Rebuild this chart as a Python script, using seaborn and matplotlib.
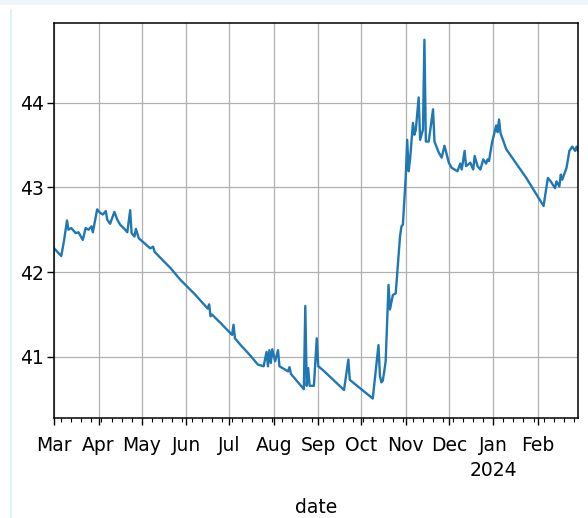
import pandas as pd
import matplotlib
matplotlib.use("Agg")
import matplotlib.pyplot as plt
import matplotlib.dates as mdates
from matplotlib.ticker import FuncFormatter
from matplotlib.patches import Rectangle
import seaborn as sns

# values
dates = [
    "2023-03-01", "2023-03-06", "2023-03-08", "2023-03-10", "2023-03-11", "2023-03-13",
    "2023-03-16", "2023-03-18", "2023-03-21", "2023-03-23", "2023-03-25", "2023-03-27",
    "2023-03-28", "2023-03-31", "2023-04-02", "2023-04-04", "2023-04-06", "2023-04-07",
    "2023-04-09", "2023-04-12", "2023-04-14", "2023-04-16", "2023-04-19", "2023-04-21",
    "2023-04-23", "2023-04-24", "2023-04-26", "2023-04-27", "2023-04-29", "2023-05-03",
    "2023-05-07", "2023-05-09", "2023-05-10", "2023-05-14", "2023-05-21", "2023-05-28",
    "2023-06-07", "2023-06-16", "2023-06-17", "2023-06-18", "2023-06-19", "2023-06-25",
    "2023-07-03", "2023-07-04", "2023-07-05", "2023-07-09", "2023-07-15", "2023-07-21",
    "2023-07-25", "2023-07-27", "2023-07-28", "2023-07-29", "2023-07-30", "2023-07-31",
    "2023-08-02", "2023-08-04", "2023-08-05", "2023-08-08", "2023-08-11", "2023-08-12",
    "2023-08-13", "2023-08-22", "2023-08-23", "2023-08-24", "2023-08-25", "2023-08-26",
    "2023-08-29", "2023-08-31", "2023-09-01", "2023-09-04", "2023-09-19", "2023-09-22",
    "2023-09-23", "2023-10-09", "2023-10-13", "2023-10-14", "2023-10-15", "2023-10-16",
    "2023-10-17", "2023-10-18", "2023-10-20", "2023-10-21", "2023-10-23", "2023-10-25",
    "2023-10-28", "2023-10-29", "2023-10-30", "2023-11-01", "2023-11-02", "2023-11-03",
    "2023-11-04", "2023-11-06", "2023-11-07", "2023-11-08", "2023-11-10", "2023-11-11",
    "2023-11-13", "2023-11-14", "2023-11-15", "2023-11-17", "2023-11-20", "2023-11-21",
    "2023-11-24", "2023-11-26", "2023-11-28", "2023-12-01", "2023-12-03", "2023-12-07",
    "2023-12-09", "2023-12-10", "2023-12-12", "2023-12-13", "2023-12-16", "2023-12-18",
    "2023-12-19", "2023-12-21", "2023-12-23", "2023-12-25", "2023-12-27", "2023-12-28",
    "2023-12-29", "2023-12-31", "2024-01-02", "2024-01-03", "2024-01-04", "2024-01-05",
    "2024-01-06", "2024-01-10", "2024-01-24", "2024-02-05", "2024-02-08", "2024-02-10",
    "2024-02-13", "2024-02-14", "2024-02-16", "2024-02-17", "2024-02-18", "2024-02-21",
    "2024-02-23", "2024-02-25", "2024-02-27", "2024-02-28", "2024-02-29",
]
values = [
    42.28, 42.19, 42.38, 42.61, 42.50, 42.52,
    42.46, 42.47, 42.38, 42.52, 42.50, 42.54,
    42.47, 42.74, 42.70, 42.68, 42.72, 42.62,
    42.57, 42.71, 42.62, 42.56, 42.51, 42.47,
    42.73, 42.46, 42.42, 42.51, 42.40, 42.34,
    42.28, 42.30, 42.24, 42.17, 42.05, 41.91,
    41.74, 41.57, 41.62, 41.48, 41.50, 41.40,
    41.26, 41.38, 41.22, 41.14, 41.03, 40.91,
    40.89, 41.06, 40.89, 41.08, 40.93, 41.09,
    40.95, 41.08, 40.89, 40.86, 40.83, 40.88,
    40.80, 40.62, 41.60, 40.66, 40.87, 40.66,
    40.66, 41.22, 40.89, 40.85, 40.61, 40.97,
    40.73, 40.51, 41.14, 40.78, 40.70, 40.72,
    40.83, 40.95, 41.85, 41.56, 41.73, 41.75,
    42.42, 42.54, 42.56, 43.13, 43.56, 43.19,
    43.33, 43.76, 43.62, 43.68, 44.06, 43.56,
    43.68, 44.74, 43.54, 43.54, 43.92, 43.54,
    43.41, 43.35, 43.49, 43.29, 43.23, 43.19,
    43.28, 43.21, 43.43, 43.25, 43.29, 43.21,
    43.37, 43.25, 43.21, 43.33, 43.28, 43.33,
    43.31, 43.52, 43.66, 43.73, 43.65, 43.80,
    43.64, 43.45, 43.11, 42.78, 43.11, 43.07,
    42.99, 43.07, 43.01, 43.15, 43.09, 43.23,
    43.43, 43.48, 43.43, 43.48, 43.43,
]
y_ticks = [41, 42, 43, 44]

df = pd.DataFrame({"date": pd.to_datetime(dates), "value": values})

fig, ax = plt.subplots(figsize=(5.88, 5.18), dpi=100)
fig.subplots_adjust(left=0.092, right=0.983, top=0.956, bottom=0.193)

# faint screenshot frame
fig.patches.append(Rectangle((0, 0.99), 1, 0.01, transform=fig.transFigure,
                             facecolor="#eef6fb", edgecolor="none", zorder=0))
fig.lines.append(plt.Line2D([0.019, 0.019], [0, 0.98], transform=fig.transFigure,
                            color="#e4f0f7", linewidth=1.5))

sns.lineplot(data=df, x="date", y="value", ax=ax, color="#1f77b4", linewidth=1.7)

ax.set_xlim(pd.Timestamp("2023-03-01"), pd.Timestamp("2024-02-29"))
ax.set_ylim(40.28, 44.94)
ax.set_yticks(y_ticks)

ax.xaxis.set_major_locator(mdates.MonthLocator())
ax.xaxis.set_minor_locator(mdates.WeekdayLocator(byweekday=mdates.MO))


def month_label(x, pos):
    d = mdates.num2date(x)
    return d.strftime("%b\n%Y") if d.month == 1 else d.strftime("%b")


ax.xaxis.set_major_formatter(FuncFormatter(month_label))

ax.grid(True, which="major", color="#b0b0b0", linewidth=0.9)
ax.set_ylabel("")
ax.set_xlabel("date", fontsize=13.5, labelpad=13)
ax.tick_params(axis="both", which="major", labelsize=13.5, length=5, width=1)
ax.tick_params(axis="x", which="major", pad=8)
ax.tick_params(axis="y", which="major", pad=2)
ax.tick_params(axis="x", which="minor", length=3, width=0.8)
for lab in ax.get_xticklabels():
    lab.set_linespacing(1.4)
for s in ax.spines.values():
    s.set_linewidth(1.1)

fig.savefig("out.png", dpi=100)
